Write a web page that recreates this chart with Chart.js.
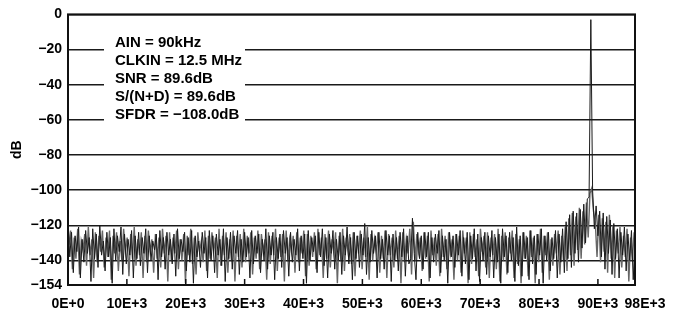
<!DOCTYPE html>
<html>
<head>
<meta charset="utf-8">
<script src="https://cdn.jsdelivr.net/npm/chart.js@4.4.1/dist/chart.umd.min.js"></script>
<style>
  html, body { margin: 0; padding: 0; background: #ffffff; }
  #wrap { width: 682px; height: 313px; }
</style>
</head>
<body>
<div id="wrap"><canvas id="c" width="682" height="313"></canvas></div>
<script>
// ---- data ----
const freqStepHz = 300;          // FFT bin spacing of each trace
const traceBOffsetHz = 150;      // second (interleaved) trace starts half a bin later
const xMaxHz = 96300;            // right edge of the plotted frequency span
const noiseDbA = [
  // 0 - 5.7k
  -116,-138,-124,-147,-126,-135,-121,-150,-128,-141,-123,-136,-127,-152,-122,-139,-125,-144,-120,-137,
  // 6k - 11.7k
  -129,-146,-124,-138,-127,-153,-122,-140,-126,-135,-121,-148,-125,-142,-128,-137,-123,-150,-126,-139,
  // 12k - 17.7k
  -124,-143,-127,-136,-122,-147,-126,-140,-129,-134,-125,-151,-123,-138,-127,-145,-124,-137,-128,-142,
  // 18k - 23.7k
  -125,-149,-122,-139,-128,-135,-124,-146,-127,-141,-123,-153,-126,-138,-129,-144,-124,-136,-127,-150,
  // 24k - 29.7k
  -123,-140,-126,-147,-125,-137,-128,-143,-122,-152,-127,-139,-124,-145,-126,-136,-123,-148,-128,-141,
  // 30k - 35.7k
  -124,-138,-127,-150,-123,-142,-126,-136,-125,-147,-128,-140,-122,-145,-126,-137,-124,-151,-127,-139,
  // 36k - 41.7k
  -125,-144,-123,-136,-127,-149,-124,-141,-128,-137,-122,-146,-126,-139,-125,-153,-123,-140,-127,-135,
  // 42k - 47.7k
  -126,-147,-124,-138,-122,-143,-127,-150,-125,-136,-123,-145,-128,-140,-124,-148,-126,-137,-121,-142,
  // 48k - 53.7k
  -127,-151,-124,-139,-126,-144,-125,-137,-119,-148,-127,-141,-123,-136,-126,-150,-124,-139,-128,-145,
  // 54k - 59.7k
  -123,-137,-126,-152,-125,-140,-127,-146,-124,-138,-122,-149,-126,-142,-139,-116,-136,-151,-124,-139,
  // 60k - 65.7k
  -126,-145,-124,-138,-124,-150,-127,-141,-125,-136,-123,-147,-126,-140,-128,-153,-124,-138,-126,-144,
  // 66k - 71.7k
  -125,-137,-123,-149,-127,-142,-124,-151,-126,-139,-122,-146,-125,-152,-127,-140,-124,-148,-126,-138,
  // 72k - 77.7k
  -123,-150,-127,-141,-125,-153,-122,-138,-126,-147,-124,-140,-127,-152,-121,-143,-126,-149,-124,-139,
  // 78k - 83.7k
  -127,-151,-123,-142,-126,-148,-125,-137,-122,-153,-126,-140,-124,-146,-127,-139,-123,-150,-125,-141,
  // 84k - 89.7k (skirt + fundamental at 88.8k)
  -122,-147,-118,-139,-114,-144,-112,-136,-113,-141,-111,-133,-108,-130,-105,-104,-3,-100,-122,-109,
  // 90k - 95.7k
  -126,-112,-138,-113,-145,-115,-136,-117,-148,-119,-139,-122,-150,-124,-137,-121,-146,-125,-140,-123,
  // 96k - 96.3k
  -151,-128
];
const noiseDbB = [
  // 0.15k - 5.85k
  -131,-123,-145,-127,-139,-122,-148,-129,-134,-125,-143,-121,-137,-128,-150,-124,-141,-126,-135,-123,
  -144,-127,-138,-123,-151,-126,-136,-124,-146,-129,-140,-122,-135,-127,-149,-125,-139,-121,-143,-128,
  -137,-124,-150,-126,-141,-123,-135,-128,-147,-125,-139,-127,-144,-122,-136,-126,-152,-124,-140,-127,
  -136,-123,-145,-128,-140,-125,-153,-126,-137,-122,-142,-127,-148,-124,-135,-129,-141,-123,-146,-126,
  -139,-124,-135,-127,-150,-122,-143,-126,-137,-124,-147,-128,-140,-123,-152,-126,-138,-125,-144,-122,
  -141,-126,-136,-124,-148,-127,-139,-123,-145,-125,-135,-128,-151,-124,-142,-126,-137,-122,-146,-127,
  -138,-125,-152,-123,-140,-128,-135,-126,-147,-124,-141,-127,-136,-123,-149,-125,-143,-126,-138,-124,
  -145,-122,-137,-127,-150,-125,-139,-123,-144,-128,-136,-124,-153,-126,-140,-122,-146,-127,-135,-125,
  -142,-124,-149,-126,-136,-123,-145,-127,-138,-121,-151,-125,-140,-128,-135,-124,-147,-126,-139,-123,
  -150,-125,-137,-127,-144,-123,-139,-126,-153,-124,-141,-128,-136,-122,-148,-118,-140,-125,-135,-127,
  -146,-124,-139,-126,-152,-123,-137,-127,-143,-125,-149,-122,-138,-126,-145,-124,-136,-128,-151,-125,
  -140,-126,-147,-123,-136,-127,-153,-124,-142,-125,-138,-128,-149,-122,-135,-126,-144,-124,-150,-127,
  -137,-125,-145,-122,-152,-126,-140,-124,-148,-127,-136,-123,-150,-125,-142,-128,-153,-124,-139,-126,
  -149,-123,-138,-127,-153,-125,-141,-122,-147,-126,-137,-124,-151,-128,-143,-125,-136,-123,-148,-126,
  // 84.15k - 89.85k (skirt)
  -140,-121,-146,-116,-137,-113,-143,-115,-134,-110,-139,-112,-131,-107,-127,-102,-99,-112,-118,-138,
  // 90.15k - 95.85k
  -114,-141,-116,-135,-118,-147,-114,-139,-120,-150,-123,-136,-121,-144,-126,-138,-122,-152,-127,-140,
  // 96.15k
  -124
];
const yTickValues = [0,-20,-40,-60,-80,-100,-120,-140,-154];
const yTickLabels = ["0","\u221220","\u221240","\u221260","\u221280","\u2212100","\u2212120","\u2212140","\u2212154"];
const xTickValues = [0,10000,20000,30000,40000,50000,60000,70000,80000,90000,98000];
const xTickLabels = ["0E+0","10E+3","20E+3","30E+3","40E+3","50E+3","60E+3","70E+3","80E+3","90E+3","98E+3"];
const annotationLines = ["AIN = 90kHz","CLKIN = 12.5 MHz","SNR = 89.6dB","S/(N+D) = 89.6dB","SFDR = \u2212108.0dB"];
const yAxisTitle = "dB";

const pointsA = noiseDbA.map((v, i) => ({ x: i * freqStepHz, y: v }));
const pointsB = noiseDbB.map((v, i) => ({ x: i * freqStepHz + traceBOffsetHz, y: v }));

const FONT = "'Liberation Sans', Arial, Helvetica, sans-serif";

const framePlugin = {
  id: 'frame',
  afterDraw(chart) {
    const { ctx, chartArea: a, scales } = chart;
    ctx.save();
    // inward tick marks on the bottom axis
    ctx.strokeStyle = '#111';
    ctx.lineWidth = 1.5;
    xTickValues.forEach(v => {
      const px = scales.x.getPixelForValue(v);
      if (px > a.left + 2 && px < a.right - 2) {
        ctx.beginPath();
        ctx.moveTo(px, a.bottom);
        ctx.lineTo(px, a.bottom - 6);
        ctx.stroke();
      }
    });
    // frame
    ctx.strokeStyle = '#111';
    ctx.lineWidth = 2;
    ctx.strokeRect(a.left, a.top, a.right - a.left, a.bottom - a.top);
    // annotation box
    ctx.fillStyle = '#ffffff';
    ctx.fillRect(104, 33, 141, 92);
    ctx.fillStyle = '#000';
    ctx.font = "bold 15px " + FONT;
    ctx.textAlign = 'left';
    ctx.textBaseline = 'middle';
    annotationLines.forEach((t, i) => ctx.fillText(t, 115, 43 + i * 18));
    ctx.restore();
  }
};

new Chart(document.getElementById('c'), {
  type: 'line',
  data: {
    datasets: [{
      data: pointsB,
      borderColor: '#666666',
      borderWidth: 1.4,
      pointRadius: 0,
      tension: 0,
      fill: false,
      order: 2
    }, {
      data: pointsA,
      borderColor: '#1a1a1a',
      borderWidth: 1,
      pointRadius: 0,
      tension: 0,
      fill: false,
      order: 1
    }]
  },
  options: {
    responsive: false,
    animation: false,
    events: [],
    layout: { padding: { top: 10, right: 47, bottom: 0, left: 0 } },
    plugins: { legend: { display: false }, tooltip: { enabled: false } },
    scales: {
      x: {
        type: 'linear',
        min: 0,
        max: xMaxHz,
        grid: { display: false, drawTicks: false },
        border: { display: false },
        afterBuildTicks: s => { s.ticks = xTickValues.map(v => ({ value: v })); },
        afterFit: s => { s.height = 28; },
        ticks: {
          padding: 11,
          color: '#000',
          font: { family: FONT, size: 14, weight: 'bold' },
          maxRotation: 0,
          autoSkip: false,
          callback: (v) => { const i = xTickValues.indexOf(v); return i >= 0 ? xTickLabels[i] : ''; }
        }
      },
      y: {
        type: 'linear',
        min: -154,
        max: 0,
        z: 1,
        grid: { color: '#1a1a1a', lineWidth: 1.5, drawTicks: false },
        border: { display: false },
        afterBuildTicks: s => { s.ticks = yTickValues.map(v => ({ value: v })); },
        afterFit: s => { s.width = 68; },
        title: {
          display: true,
          text: yAxisTitle,
          color: '#000',
          font: { family: FONT, size: 14, weight: 'bold' },
          padding: { top: 9, bottom: 0 }
        },
        ticks: {
          padding: 6,
          color: '#000',
          font: { family: FONT, size: 14, weight: 'bold' },
          autoSkip: false,
          callback: (v) => { const i = yTickValues.indexOf(v); return i >= 0 ? yTickLabels[i] : ''; }
        }
      }
    }
  },
  plugins: [framePlugin]
});
</script>
</body>
</html>
